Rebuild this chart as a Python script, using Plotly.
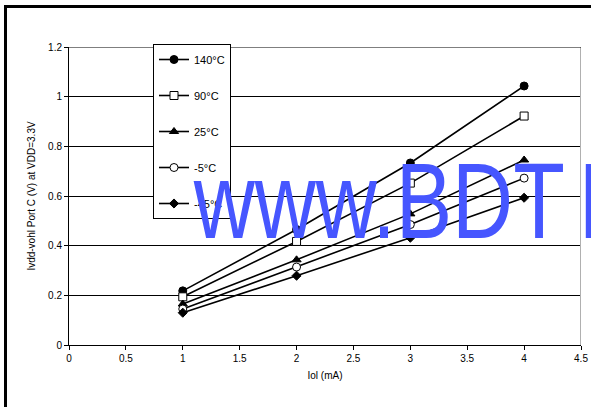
import plotly.graph_objects as go

x_vals = [1, 2, 3, 4]
series_names = ["140°C", "90°C", "25°C", "-5°C", "-45°C"]
v_140 = [0.218, 0.465, 0.733, 1.043]
v_90 = [0.194, 0.417, 0.652, 0.922]
v_25 = [0.165, 0.343, 0.528, 0.745]
v_m5 = [0.145, 0.314, 0.485, 0.672]
v_m45 = [0.13, 0.279, 0.432, 0.593]
x_ticks = [0, 0.5, 1, 1.5, 2, 2.5, 3, 3.5, 4, 4.5]
y_ticks = [0, 0.2, 0.4, 0.6, 0.8, 1, 1.2]
watermark_parts = ["www.BDT", "I"]

series_vals = [v_140, v_90, v_25, v_m5, v_m45]
symbols = ["circle", "square-open", "triangle-up", "circle-open", "diamond"]
sizes = [8, 8, 8, 8, 7]

FONT = "Liberation Sans, Arial, sans-serif"
fig = go.Figure()
for i, (name, vals) in enumerate(zip(series_names, series_vals)):
    open_ = "open" in symbols[i]
    fig.add_trace(go.Scatter(
        x=x_vals, y=vals, name=name, mode="lines+markers",
        legendgroup=str(i),
        line=dict(color="black", width=1.6),
        marker=dict(symbol=symbols[i].replace("-open", ""), size=sizes[i],
                    color="white" if open_ else "black",
                    line=dict(color="black", width=1)),
    ))

W, H = 591, 407
L, R, T, B = 69, 10, 47, 62
pw, ph = W - L - R, H - T - B

def px_x(p):
    return (p - L) / pw

def px_y(p):
    return (H - B - p) / ph

fig.update_layout(
    width=W, height=H,
    margin=dict(l=L, r=R, t=T, b=B),
    paper_bgcolor="white", plot_bgcolor="white",
    font=dict(family=FONT, size=10, color="black"),
    showlegend=True,
    legend=dict(
        x=px_x(153), y=px_y(44), xanchor="left", yanchor="top",
        bordercolor="black", borderwidth=1, bgcolor="white",
        tracegroupgap=17, font=dict(size=11, family=FONT),
        itemwidth=30,
    ),
    xaxis=dict(
        range=[0, 4.5], tickvals=x_ticks, ticktext=[f"{v:g}" for v in x_ticks],
        showgrid=False, zeroline=False, showline=True, linecolor="black", linewidth=1,
        ticks="outside", ticklen=4, tickcolor="black", automargin=False,
        title=dict(text="Iol (mA)", font=dict(size=10), standoff=8),
    ),
    yaxis=dict(
        range=[0, 1.2], tickvals=y_ticks, ticktext=[f"{v:g}" for v in y_ticks],
        showgrid=True, gridcolor="black", gridwidth=1,
        zeroline=False, showline=True, linecolor="black", linewidth=1,
        ticks="outside", ticklen=4, tickcolor="black", automargin=False,
        title=dict(text="Ivdd-vohl Port C (V) at VDD=3.3V", font=dict(size=10), standoff=10),
    ),
)

# right gray border and top gridline of plot area
fig.add_shape(type="line", xref="x", yref="y", x0=4.5, x1=4.5, y0=0, y1=1.2,
              line=dict(color="#b0b0b0", width=2))
fig.add_shape(type="line", xref="x", yref="y", x0=0, x1=4.5, y0=1.2, y1=1.2,
              line=dict(color="black", width=1))
# outer thick frame
fig.add_shape(type="rect", xref="paper", yref="paper",
              x0=px_x(5.5), x1=px_x(620), y0=px_y(440), y1=px_y(6.5),
              line=dict(color="black", width=3), fillcolor="rgba(0,0,0,0)")

for part, left_px in zip(watermark_parts, [191, 576]):
    fig.add_annotation(
        text=part, xref="paper", yref="paper",
        x=px_x(left_px), y=px_y(263), xanchor="left", yanchor="bottom",
        showarrow=False, font=dict(family=FONT, size=107, color="#4656ff"),
    )

post = """
document.body.style.margin = '0';
document.body.style.padding = '0';
var gd = document.getElementById('{plot_id}');
function sq(){
  gd.querySelectorAll('.annotation-text').forEach(function(t){
    t.removeAttribute('transform');
    var bb = t.getBBox();
    t.setAttribute('transform', 'translate(' + bb.x + ',0) scale(0.79,1) translate(' + (-bb.x) + ',0)');
  });
}
sq();
if (gd.on) { gd.on('plotly_afterplot', sq); }
setTimeout(sq, 50);
"""
fig.write_html("out.html", post_script=post, config={"displayModeBar": False})
